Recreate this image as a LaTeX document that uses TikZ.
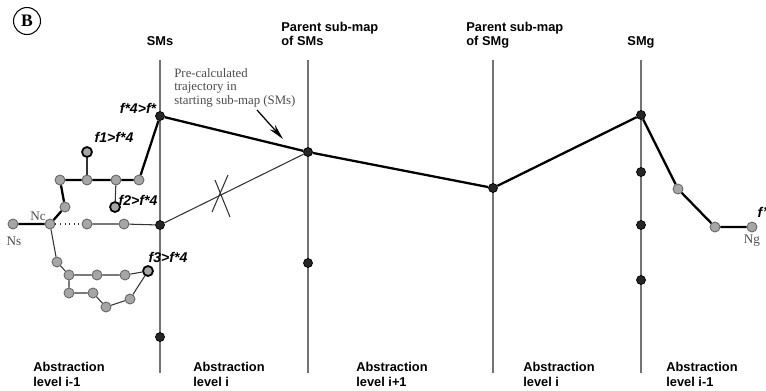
\documentclass[tikz,border=0pt]{standalone}
\usepackage{fontspec}
\setmainfont{Liberation Serif}
\setsansfont{Liberation Sans}
\usetikzlibrary{arrows.meta}
\begin{document}
\begin{tikzpicture}[x=0.02cm,y=-0.02cm,
    bdot/.style={circle,draw=black,fill=black!85,inner sep=0pt,minimum size=0.18cm},
    gdot/.style={circle,draw=black!60,fill=black!35,inner sep=0pt,minimum size=0.2cm,line width=0.5pt},
    fdot/.style={gdot,draw=black,line width=1pt},
    axisline/.style={black!55,line width=0.7pt},
    traj/.style={line width=1.3pt},
    link/.style={black!80,line width=0.6pt},
    head/.style={font=\sffamily\bfseries\fontsize{7.3}{7.6}\selectfont,align=left,inner sep=0pt},
    level/.style={font=\sffamily\bfseries\fontsize{7.3}{8}\selectfont,align=left,inner sep=0pt,anchor=base west},
    flab/.style={font=\sffamily\bfseries\itshape\fontsize{8}{9}\selectfont,inner sep=0pt},
    nlab/.style={font=\fontsize{7.5}{8.5}\selectfont,text=black!70,inner sep=0pt}]
    \useasboundingbox (0,0) rectangle (766,390);
    %% sub-map axes
    \foreach \x/\n in {160/sm,308/ps,493/pg,641/gm} {
        \coordinate (\n top) at (\x,60);
        \coordinate (\n bot) at (\x,373);
        \draw[axisline] (\n top) -- (\n bot);
    }
    %% headers
    \node[head,anchor=base] (hsms) at (160,45) {SMs};
    \node[head,anchor=base west] (hps) at (281,45) {Parent sub-map\\of SMs};
    \node[head,anchor=base west] (hpg) at (466,45) {Parent sub-map\\of SMg};
    \node[head,anchor=base] (hsmg) at (641,45) {SMg};
    \node[circle,draw,line width=0.6pt,minimum size=0.54cm,inner sep=0pt,font=\bfseries\fontsize{10}{10}\selectfont] (B) at (27,21) {B};
    %% abstraction levels
    \node[level] (l1) at (33,386) {Abstraction\\level i-1};
    \node[level] (l2) at (193,386) {Abstraction\\level i};
    \node[level] (l3) at (356,386) {Abstraction\\level i+1};
    \node[level] (l4) at (523,386) {Abstraction\\level i};
    \node[level] (l5) at (666,386) {Abstraction\\level i-1};
    %% abstract nodes
    \node[bdot] (s1) at (160,116) {};
    \node[bdot] (s2) at (160,225) {};
    \node[bdot] (s3) at (160,337) {};
    \node[bdot] (p1) at (308,152) {};
    \node[bdot] (p2) at (308,263) {};
    \node[bdot] (q1) at (493,188) {};
    \node[bdot] (g1) at (641,115) {};
    \node[bdot] (g2) at (641,172) {};
    \node[bdot] (g3) at (641,225) {};
    \node[bdot] (g4) at (641,280) {};
    %% ground nodes, start side
    \node[gdot] (ns) at (13,224) {};
    \node[gdot] (nc) at (50,224) {};
    \node[gdot] (a1) at (65,207) {};
    \node[gdot] (a2) at (60,180) {};
    \node[gdot] (a3) at (87,180) {};
    \node[gdot] (a4) at (116,180) {};
    \node[gdot] (a5) at (139,180) {};
    \node[fdot] (f1) at (87,152) {};
    \node[fdot] (f2) at (115,207) {};
    \node[gdot] (b1) at (87,224) {};
    \node[gdot] (b2) at (124,224) {};
    \node[gdot] (c1) at (57,262) {};
    \node[gdot] (c2) at (69,275) {};
    \node[gdot] (c3) at (97,275) {};
    \node[gdot] (c4) at (125,275) {};
    \node[fdot] (f3) at (148,271) {};
    \node[gdot] (c5) at (130,299) {};
    \node[gdot] (c6) at (106,307) {};
    \node[gdot] (c7) at (93,293) {};
    \node[gdot] (c8) at (69,293) {};
    %% ground nodes, goal side
    \node[gdot] (e1) at (678,189) {};
    \node[gdot] (e2) at (715,227) {};
    \node[gdot] (ng) at (752,227) {};
    %% paths
    \draw[traj] (ns) -- (nc) -- (a1) -- (a2) -- (a3) -- (a4) -- (a5) -- (s1) -- (p1) -- (q1) -- (g1) -- (e1) -- (e2) -- (ng);
    \draw[link] (a3) -- (f1);
    \draw[link] (a4) -- (f2);
    \draw[link,dotted] (nc) -- (b1);
    \draw[link] (b1) -- (b2) -- (s2) -- (p1);
    \draw[link] (nc) -- (c1) -- (c2) -- (c3) -- (c4) -- (f3) -- (c5) -- (c6) -- (c7) -- (c8) -- (c2);
    %% rejected link
    \draw[link] (215,180) -- (230,217);
    \draw[link] (228,175) -- (212,212);
    %% labels
    \node[nlab] (lns) at (14,241) {Ns};
    \node[nlab] (lnc) at (38,216) {Nc};
    \node[nlab] (lng) at (752,241) {Ng};
    \node[flab] (lf0) at (138,108) {f*4>f*};
    \node[flab] (lf1) at (114,137) {f1>f*4};
    \node[flab] (lf2) at (138,200) {f2>f*4};
    \node[flab] (lf3) at (168,257) {f3>f*4};
    \node[flab] (lfg) at (762,212) {f'};
    \node[nlab,anchor=base west,align=left,font=\fontsize{7.3}{7.6}\selectfont] (pre) at (174,104) {Pre-calculated\\trajectory in\\starting sub-map (SMs)};
    \coordinate (atail) at (257,110);
    \coordinate (ahead) at (283,139);
    \draw[-{Stealth[length=9pt,width=4pt]},line width=0.7pt] (atail) -- (ahead);
\end{tikzpicture}
\end{document}
